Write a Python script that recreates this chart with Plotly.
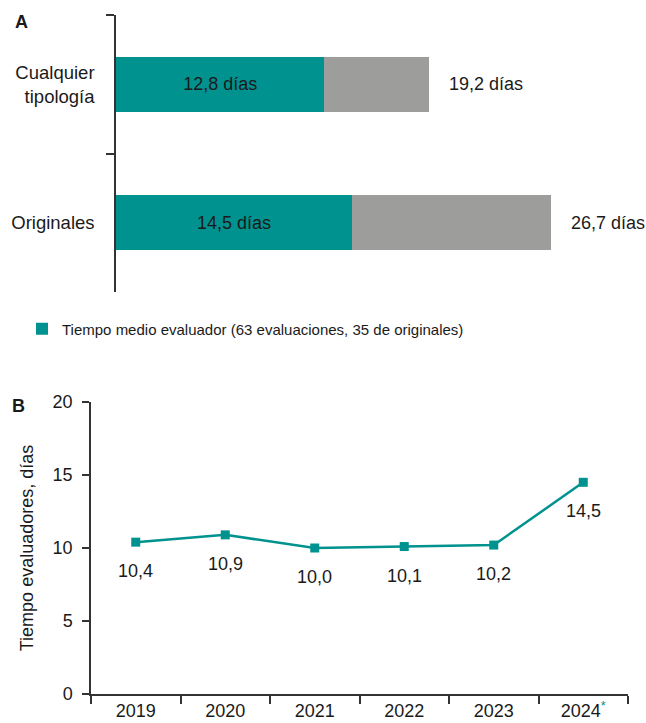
import plotly.graph_objects as go

TEAL = "#00928F"
GRAY = "#9D9D9C"
INK = "#1a1a1a"
AXIS = "#333333"
FONT = "Liberation Sans, Arial, sans-serif"

# ---- Data ----
categorias = ["Cualquier<br>tipología", "Originales"]
tiempo_evaluador = [12.8, 14.5]
tiempo_total = [19.2, 26.7]
leyenda = "Tiempo medio evaluador (63 evaluaciones, 35 de originales)"

anios = ["2019", "2020", "2021", "2022", "2023",
         "2024<sup><span style='color:#00928F'>*</span></sup>"]
tiempo_anual = [10.4, 10.9, 10.0, 10.1, 10.2, 14.5]


def fmt(v):
    return f"{v:.1f}".replace(".", ",")


W, H = 646, 723
fig = go.Figure()

fig.add_trace(go.Bar(
    y=categorias, x=tiempo_evaluador, orientation="h",
    marker=dict(color=TEAL, line=dict(width=0)), name=leyenda,
    text=[fmt(v) + " días" for v in tiempo_evaluador],
    textposition="inside", insidetextanchor="middle",
    insidetextfont=dict(size=18, color=INK, family=FONT),
    xaxis="x", yaxis="y", hoverinfo="skip"))
fig.add_trace(go.Bar(
    y=categorias, x=[t - e for t, e in zip(tiempo_total, tiempo_evaluador)],
    orientation="h", marker=dict(color=GRAY, line=dict(width=0)),
    showlegend=False, xaxis="x", yaxis="y", hoverinfo="skip"))

fig.add_trace(go.Scatter(
    x=anios, y=tiempo_anual, mode="lines+markers",
    line=dict(color=TEAL, width=2.5),
    marker=dict(symbol="square", size=9, color=TEAL),
    showlegend=False, xaxis="x2", yaxis="y2", hoverinfo="skip"))

annotations = []
for c, t in zip(categorias, tiempo_total):
    annotations.append(dict(x=t, y=c, xref="x", yref="y", text=fmt(t) + " días",
                            showarrow=False, xanchor="left", xshift=18,
                            font=dict(size=18, color=INK, family=FONT)))
for i, v in enumerate(tiempo_anual):
    annotations.append(dict(x=i, y=v, xref="x2", yref="y2", text=fmt(v),
                            showarrow=False, yshift=-29,
                            font=dict(size=18, color=INK, family=FONT)))
annotations.append(dict(x=13 / W, y=1 - 22 / H, xref="paper", yref="paper", text="<b>A</b>",
                        showarrow=False, xanchor="left", yanchor="middle",
                        font=dict(size=18, color=INK, family=FONT)))
annotations.append(dict(x=10 / W, y=1 - 406 / H, xref="paper", yref="paper", text="<b>B</b>",
                        showarrow=False, xanchor="left", yanchor="middle",
                        font=dict(size=18, color=INK, family=FONT)))

fig.update_layout(
    width=W, height=H, margin=dict(l=0, r=0, t=0, b=0, autoexpand=False),
    paper_bgcolor="white", plot_bgcolor="white",
    font=dict(family=FONT, size=18, color=INK),
    barmode="stack", bargap=0.6,
    showlegend=True,
    legend=dict(x=22 / W, y=1 - 329 / H, xanchor="left", yanchor="middle",
                font=dict(size=15, color=INK, family=FONT),
                bgcolor="rgba(0,0,0,0)"),
    xaxis=dict(domain=[116 / W, 1], range=[0, (W - 116) / 16.28], visible=False,
               fixedrange=True, automargin=False),
    yaxis=dict(domain=[1 - 292 / H, 1 - 15 / H], type="category",
               categoryarray=categorias, range=[1.5, -0.5],
               showline=True, linecolor=AXIS, linewidth=1.5,
               ticks="outside", ticklen=8, tickcolor=AXIS, tickwidth=1.5,
               tickson="boundaries", ticklabelstandoff=16, automargin=False,
               tickfont=dict(size=18.5, color=INK), showgrid=False, zeroline=False),
    xaxis2=dict(domain=[91 / W, 628 / W], anchor="y2", type="category",
                categoryarray=anios, range=[-0.5, 5.5],
                showline=True, linecolor=AXIS, linewidth=1.5,
                ticks="outside", ticklen=8, tickcolor=AXIS, tickwidth=1.5,
                tickson="boundaries", tickfont=dict(size=18, color=INK),
                showgrid=False, zeroline=False, automargin=False),
    yaxis2=dict(domain=[1 - 694 / H, 1 - 402 / H], anchor="x2", range=[0, 20],
                dtick=5, showline=True, linecolor=AXIS, linewidth=1.5,
                ticks="outside", ticklen=7, tickcolor=AXIS, tickwidth=1.5,
                ticklabelstandoff=6, automargin=False,
                tickfont=dict(size=18, color=INK), showgrid=False, zeroline=False,
                title=dict(text="Tiempo evaluadores, días", standoff=14,
                           font=dict(size=18, color=INK))),
    annotations=annotations,
)

fig.write_html("out.html", config={"displayModeBar": False},
               post_script="document.body.style.margin='0';document.body.style.overflow='hidden';")
